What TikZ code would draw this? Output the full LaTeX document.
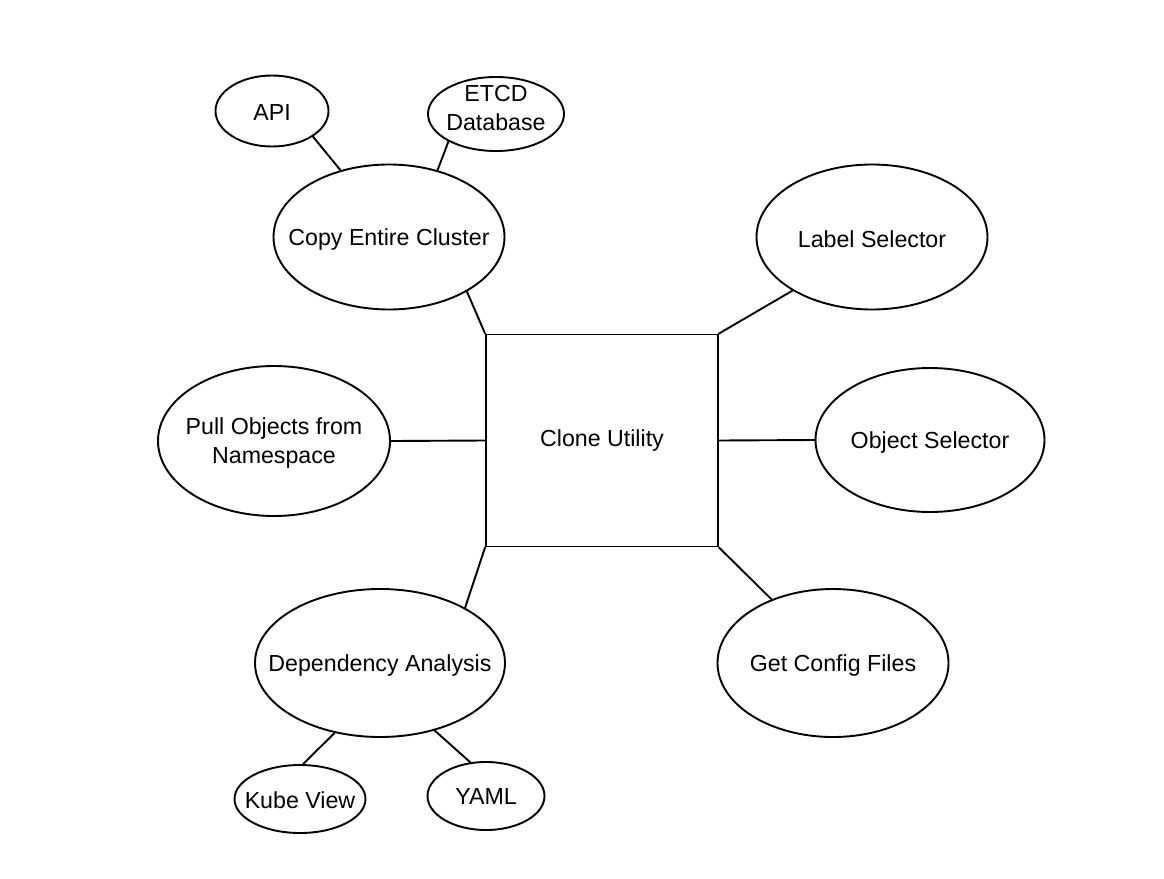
\documentclass[tikz,border=0pt]{standalone}
\usepackage{fontspec}
\setmainfont{Liberation Sans}
\usetikzlibrary{shapes.geometric}
\begin{document}
\begin{tikzpicture}[x=1pt,y=-1pt,
  every node/.style={font=\fontsize{23.2}{29.5}\selectfont},
  ell/.style 2 args={draw, line width=1.9pt, ellipse, inner sep=0pt,
     minimum width=#1pt, minimum height=#2pt},
  conn/.style={line width=1.9pt, line cap=round}]
\useasboundingbox (0,0) rectangle (1164,878);
\node[draw, line width=1.9pt, minimum width=232pt, minimum height=212pt, inner sep=0pt] (clone) at (602,440.5) {\raisebox{-2pt}{Clone Utility}};
\node[ell={231}{145}, label={[yshift=-2pt]center:Copy Entire Cluster}] (copy) at (389,237) {};
\node[ell={113}{71}, label={[yshift=-2pt]center:API}] (api) at (272,111) {};
\node[ell={136}{74}, label={[align=center,yshift=6pt]center:ETCD\\Database}] (etcd) at (496,114) {};
\node[ell={231}{145}, label={[yshift=-2pt]center:Label Selector}] (label) at (872,237) {};
\node[ell={232}{150}, label={[align=center,yshift=-2pt]center:Pull Objects from\\Namespace}] (pull) at (274,441) {};
\node[ell={229}{144}, label={[yshift=-2pt]center:Object Selector}] (object) at (930,440) {};
\node[ell={250}{148}, label={[yshift=-2pt]center:Dependency Analysis}] (dep) at (380,663) {};
\node[ell={231}{148}, label={[yshift=-2pt]center:Get Config Files}] (config) at (833,663) {};
\node[ell={131}{68}, label={[yshift=-1pt]center:Kube View}] (kube) at (300,799) {};
\node[ell={117}{68}, label={[yshift=-1pt]center:YAML}] (yaml) at (486,796) {};
\draw[conn] (clone.north west) -- (copy.-35);
\draw[conn] (api.-32) -- (copy.126);
\draw[conn] (etcd.-150) -- (copy.54);
\draw[conn] (clone.north east) -- (label.-146);
\draw[conn] (pull.east) -- (clone.west);
\draw[conn] (clone.east) -- (object.west);
\draw[conn] (clone.south west) -- (dep.33);
\draw[conn] (clone.south east) -- (config.134);
\draw[conn] (kube.85) -- (dep.-123);
\draw[conn] (yaml.115) -- (dep.-51);
\end{tikzpicture}
\end{document}
